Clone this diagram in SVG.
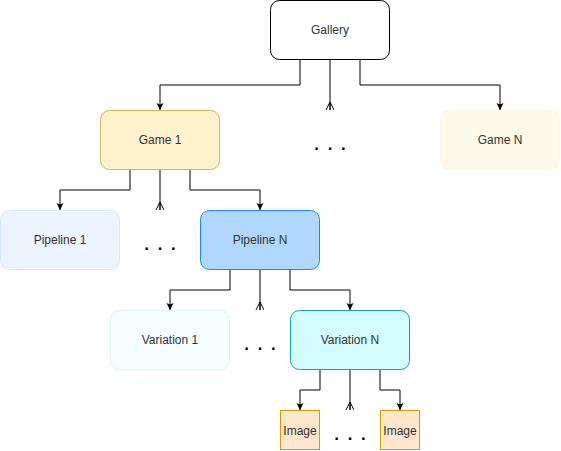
<svg xmlns="http://www.w3.org/2000/svg" width="561" height="451" viewBox="0 0 561 451">
<defs>
<style>
.lbl{font-family:"Liberation Sans",Arial,sans-serif;font-size:12px;fill:#333333;text-anchor:middle;dominant-baseline:central}
.dots{font-family:"Liberation Sans",Arial,sans-serif;font-size:24px;fill:#000;text-anchor:middle}
.c{fill:none;stroke:#000;stroke-width:1}
</style>
<marker id="arr" markerWidth="8" markerHeight="8" refX="7" refY="3.5" orient="auto" markerUnits="userSpaceOnUse">
<path d="M0,0 L7,3.5 L0,7 L1.5,3.5 Z" fill="#000"/>
</marker>
<marker id="crow" markerWidth="10" markerHeight="10" refX="8" refY="4" orient="auto" markerUnits="userSpaceOnUse">
<path d="M0,4 L8,0 M0,4 L8,8 M0,4 L8,4" fill="none" stroke="#000" stroke-width="1"/>
</marker>
</defs>
<rect width="561" height="451" fill="#ffffff"/>
<g id="connectors">
<path class="c" d="M300,60 V85 H160 V110" marker-end="url(#arr)"/>
<path class="c" d="M330,60 V110" marker-end="url(#crow)"/>
<path class="c" d="M360,60 V85 H500 V110" marker-end="url(#arr)"/>
<path class="c" d="M130,170 V190 H60 V210" marker-end="url(#arr)"/>
<path class="c" d="M160,170 V210" marker-end="url(#crow)"/>
<path class="c" d="M190,170 V190 H260 V210" marker-end="url(#arr)"/>
<path class="c" d="M230,270 V290 H170 V310" marker-end="url(#arr)"/>
<path class="c" d="M260,270 V310" marker-end="url(#crow)"/>
<path class="c" d="M290,270 V290 H350 V310" marker-end="url(#arr)"/>
<path class="c" d="M320,370 V390 H300 V410" marker-end="url(#arr)"/>
<path class="c" d="M350,370 V410" marker-end="url(#crow)"/>
<path class="c" d="M380,370 V390 H400 V410" marker-end="url(#arr)"/>
</g>
<g id="gallery">
<rect x="270.5" y="0.5" width="119" height="59" rx="9" fill="#ffffff" stroke="#000000"/>
<text class="lbl" x="330" y="30">Gallery</text>
</g>
<g id="game1">
<rect x="100.5" y="110.5" width="119" height="59" rx="9" fill="#fff2cc" stroke="#d6b656"/>
<text class="lbl" x="160" y="140">Game 1</text>
</g>
<g id="gameN">
<rect x="440.5" y="110.5" width="119" height="59" rx="9" fill="#fff9ea" stroke="#fff6e2"/>
<text class="lbl" x="500" y="140">Game N</text>
</g>
<g id="dots1"><text class="dots" x="330" y="150">. . .</text></g>
<g id="pipeline1">
<rect x="0.5" y="210.5" width="119" height="59" rx="9" fill="#ebf4ff" stroke="#d7e9fe"/>
<text class="lbl" x="60" y="240">Pipeline 1</text>
</g>
<g id="pipelineN">
<rect x="200.5" y="210.5" width="119" height="59" rx="9" fill="#b0d7ff" stroke="#1a85ff"/>
<text class="lbl" x="260" y="240">Pipeline N</text>
</g>
<g id="dots2"><text class="dots" x="160" y="250">. . .</text></g>
<g id="variation1">
<rect x="110.5" y="310.5" width="119" height="59" rx="9" fill="#f5feff" stroke="#dcf4fb"/>
<text class="lbl" x="170" y="340">Variation 1</text>
</g>
<g id="variationN">
<rect x="290.5" y="310.5" width="119" height="59" rx="9" fill="#d4fcfc" stroke="#12a2b6"/>
<text class="lbl" x="350" y="340">Variation N</text>
</g>
<g id="dots3"><text class="dots" x="260" y="350">. . .</text></g>
<g id="image1">
<rect x="280.5" y="410.5" width="39" height="39" fill="#ffe6cc" stroke="#d79b00"/>
<text class="lbl" x="300" y="431">Image</text>
</g>
<g id="image2">
<rect x="380.5" y="410.5" width="39" height="39" fill="#ffe6cc" stroke="#d79b00"/>
<text class="lbl" x="400" y="431">Image</text>
</g>
<g id="dots4"><text class="dots" x="350" y="440">. . .</text></g>
</svg>
